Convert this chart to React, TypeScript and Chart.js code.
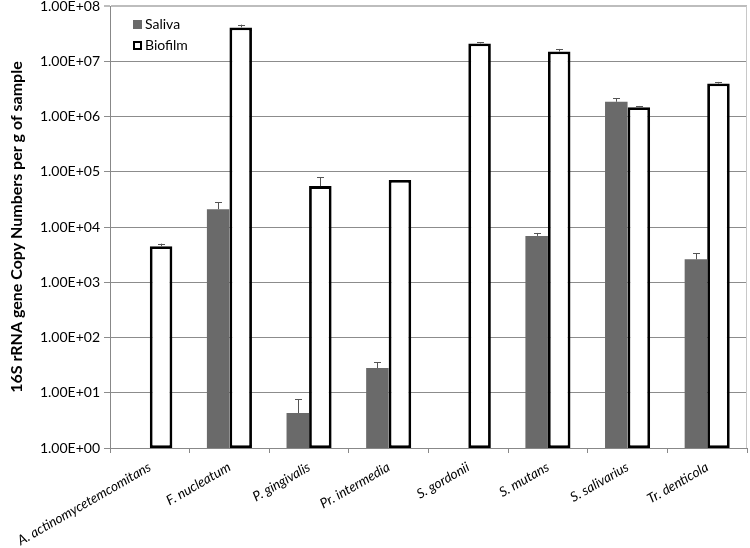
import React, { useEffect, useRef } from "react";
import { Chart, registerables } from "chart.js";

Chart.register(...registerables);

const categories = [
  "A. actinomycetemcomitans",
  "F. nucleatum",
  "P. gingivalis",
  "Pr. intermedia",
  "S. gordonii",
  "S. mutans",
  "S. salivarius",
  "Tr. denticola",
];

const salivaValues: (number | null)[] = [null, 2.1e4, 4.3, 28, null, 6.9e3, 1.85e6, 2.6e3];
const salivaErrors: (number | null)[] = [null, 0.7e4, 3.3, 8, null, 0.9e3, 0.3e6, 0.75e3];
const biofilmValues: number[] = [4.5e3, 4.1e7, 5.5e4, 7.1e4, 2.1e7, 1.5e7, 1.47e6, 3.95e6];
const biofilmErrors: (number | null)[] = [0.5e3, 0.5e7, 2.4e4, null, 0.12e7, 0.17e7, 0.08e6, 0.27e6];

const yTicks = [1, 1e1, 1e2, 1e3, 1e4, 1e5, 1e6, 1e7, 1e8];

const FONT = "Lato, 'Open Sans', sans-serif";

const fmt = (v: number) => {
  const e = Math.round(Math.log10(v));
  return `1.00E+${String(e).padStart(2, "0")}`;
};

const errorBarPlugin = {
  id: "errorBars",
  afterDatasetsDraw(chart: any) {
    const ctx = chart.ctx;
    const yScale = chart.scales.y;
    const errs = [salivaErrors, biofilmErrors];
    const vals = [salivaValues, biofilmValues];
    ctx.save();
    ctx.strokeStyle = "#555";
    ctx.lineWidth = 1;
    chart.data.datasets.forEach((_: any, di: number) => {
      const meta = chart.getDatasetMeta(di);
      meta.data.forEach((el: any, i: number) => {
        const v = vals[di][i];
        const e = errs[di][i];
        if (v == null || e == null) return;
        const x = Math.round(el.x) + 0.5;
        const y0 = el.y;
        const y1 = yScale.getPixelForValue(v + e);
        ctx.beginPath();
        ctx.moveTo(x, y0);
        ctx.lineTo(x, y1);
        ctx.moveTo(x - 3.5, Math.round(y1) + 0.5);
        ctx.lineTo(x + 3.5, Math.round(y1) + 0.5);
        ctx.stroke();
      });
    });
    ctx.restore();
  },
};

const legendPlugin = {
  id: "insideLegend",
  afterDraw(chart: any) {
    const ctx = chart.ctx;
    const { left, top } = chart.chartArea;
    ctx.save();
    ctx.font = `14px ${FONT}`;
    ctx.textBaseline = "middle";
    ctx.fillStyle = "#6a6a6a";
    const x = left + 23;
    ctx.fillRect(x, top + 14, 9, 9);
    ctx.fillStyle = "#000";
    ctx.fillText("Saliva", x + 12, top + 18.5);
    ctx.fillStyle = "#fff";
    ctx.fillRect(x, top + 35, 9, 9);
    ctx.strokeStyle = "#000";
    ctx.lineWidth = 2;
    ctx.strokeRect(x + 1, top + 36, 7, 7);
    ctx.fillStyle = "#000";
    ctx.fillText("Biofilm", x + 12, top + 39.5);
    ctx.restore();
  },
};

const rightBorderPlugin = {
  id: "rightBorder",
  beforeDatasetsDraw(chart: any) {
    const ctx = chart.ctx;
    const { right, top, bottom } = chart.chartArea;
    ctx.save();
    ctx.strokeStyle = "#c8c8c8";
    ctx.lineWidth = 1;
    ctx.beginPath();
    ctx.moveTo(Math.round(right) - 0.5, top);
    ctx.lineTo(Math.round(right) - 0.5, bottom);
    ctx.stroke();
    ctx.restore();
  },
};

export default function App() {
  const ref = useRef<HTMLCanvasElement | null>(null);
  useEffect(() => {
    document.body.style.margin = "0";
    if (!ref.current) return;
    const chart = new Chart(ref.current, {
      type: "bar",
      data: {
        labels: categories,
        datasets: [
          {
            label: "Saliva",
            data: salivaValues as any,
            backgroundColor: "#6a6a6a",
            borderWidth: 0,
            categoryPercentage: 0.566,
            barPercentage: 1,
          },
          {
            label: "Biofilm",
            data: biofilmValues,
            backgroundColor: "#ffffff",
            borderColor: "#000000",
            borderWidth: 2.8,
            borderSkipped: false,
            categoryPercentage: 0.566,
            barPercentage: 1,
          },
        ],
      },
      options: {
        responsive: false,
        animation: false,
        layout: { padding: { top: 6, right: 3, left: 0, bottom: 0 } },
        plugins: {
          legend: { display: false },
          tooltip: { enabled: false },
        },
        scales: {
          x: {
            grid: {
              display: true,
              drawOnChartArea: false,
              offset: true,
              tickLength: 5,
              color: "#888",
            },
            border: { color: "#888" },
            ticks: {
              minRotation: 30,
              maxRotation: 30,
              color: "#000",
              padding: 6,
              font: { family: FONT, size: 13.5, style: "italic" },
            },
            afterFit(scale: any) {
              scale.height = 100;
            },
          },
          y: {
            type: "logarithmic",
            min: 1,
            max: 1e8,
            afterBuildTicks(scale: any) {
              scale.ticks = yTicks.map((v) => ({ value: v }));
            },
            grid: {
              color: (c: any) => (c.tick && c.tick.value === 1e8 ? "#bdbdbd" : "#8c8c8c"),
              lineWidth: (c: any) => (c.tick && c.tick.value === 1e8 ? 2 : 1),
              tickLength: 6,
            },
            border: { color: "#888" },
            ticks: {
              color: "#000",
              padding: 4,
              font: { family: FONT, size: 14 },
              callback: (v: any) => fmt(Number(v)),
            },
            title: {
              display: true,
              text: "16S rRNA gene Copy Numbers per g of sample",
              color: "#000",
              font: { family: FONT, size: 16, weight: "bold" },
              padding: { top: 7, bottom: 0 },
            },
            afterFit(scale: any) {
              scale.width = 110;
              scale.paddingTop = 0;
              scale.paddingBottom = 0;
            },
          },
        },
      },
      plugins: [rightBorderPlugin, errorBarPlugin, legendPlugin],
    });
    return () => chart.destroy();
  }, []);
  return <canvas ref={ref} width={750} height={548} style={{ display: "block" }} />;
}
